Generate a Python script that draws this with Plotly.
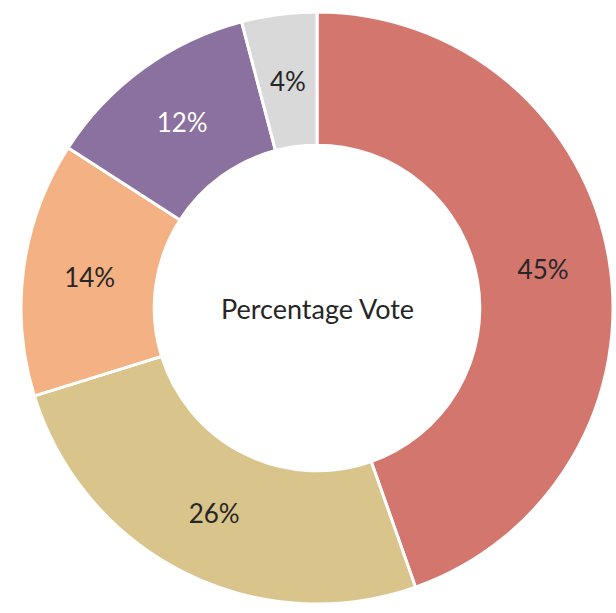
import math
import plotly.graph_objects as go

categories = ["A", "B", "C", "D", "E"]
values = [44.6, 25.6, 13.9, 11.8, 4.1]
colors = ["#D3766E", "#D9C48B", "#F4B183", "#8A71A0", "#D9D9D9"]
text_colors = ["#262626", "#262626", "#262626", "#FFFFFF", "#262626"]
center_label = "Percentage Vote"

W, H = 616, 613
CX, CY, R_OUT, HOLE = 317, 308, 296, 0.55
total = sum(values)

# the narrow last slice gets its label at mid-ring (plotly would push it outward)
templates = ["%{percent:.0%}"] * (len(values) - 1) + [""]

fig = go.Figure(go.Pie(
    labels=categories,
    values=values,
    sort=False,
    direction="clockwise",
    rotation=0,
    hole=HOLE,
    marker=dict(colors=colors, line=dict(color="white", width=3)),
    texttemplate=templates,
    textposition="inside",
    insidetextorientation="horizontal",
    textfont=dict(family="Lato", size=26, color=text_colors),
    domain=dict(x=[(CX - R_OUT) / W, (CX + R_OUT) / W],
                y=[1 - (CY + R_OUT) / H, 1 - (CY - R_OUT) / H]),
    showlegend=False,
    hoverinfo="label+percent",
))

cum_before = total - values[-1]
mid_frac = (cum_before + values[-1] / 2) / total
ang = 2 * math.pi * mid_frac
r_mid = R_OUT * (1 + HOLE) / 2
fig.add_annotation(
    text=f"{round(values[-1] / total * 100)}%",
    x=(CX + r_mid * math.sin(ang)) / W, y=1 - (CY - r_mid * math.cos(ang)) / H,
    xref="paper", yref="paper", showarrow=False,
    xanchor="center", yanchor="middle",
    font=dict(family="Lato", size=26, color=text_colors[-1]),
)
fig.add_annotation(
    text=center_label, x=CX / W, y=1 - CY / H,
    xref="paper", yref="paper", xanchor="center", yanchor="middle",
    showarrow=False, font=dict(family="Lato", size=27, color="#262626"),
)
fig.update_layout(
    width=W, height=H,
    margin=dict(l=0, r=0, t=0, b=0),
    paper_bgcolor="white", plot_bgcolor="white",
)
fig.write_html(
    "out.html",
    config={"displayModeBar": False},
    post_script="document.body.style.margin='0';document.body.style.overflow='hidden';",
)
